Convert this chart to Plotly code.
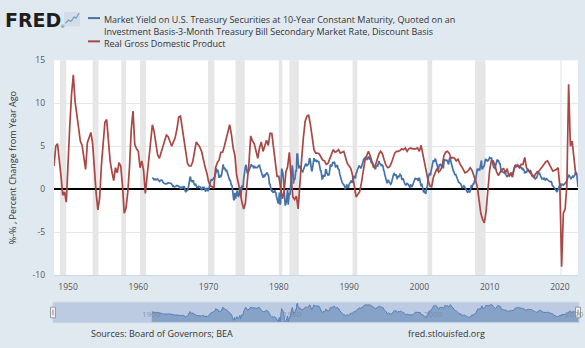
import pandas as pd
import plotly.graph_objects as go

W, H = 585, 348

# ---------------------------------------------------------------------------
# Data
# ---------------------------------------------------------------------------
# 10-year constant maturity yield minus 3-month T-bill rate, monthly, percent
spread_start = "1962-01-01"
spread_values = [
    1.36, 1.31, 1.21, 1.11, 1.18, 1.18, 1.09, 1.16, 1.20, 1.19, 1.09, 0.99,  # 1962
    0.92, 1.00, 1.04, 1.07, 1.01, 1.00, 0.84, 0.68, 0.70, 0.66, 0.60, 0.61,  # 1963
    0.65, 0.62, 0.68, 0.76, 0.72, 0.69, 0.73, 0.69, 0.67, 0.62, 0.51, 0.34,  # 1964
    0.38, 0.28, 0.28, 0.27, 0.32, 0.41, 0.36, 0.41, 0.37, 0.32, 0.36, 0.24,  # 1965
    0.02, 0.18, 0.29, 0.13, 0.14, 0.31, 0.22, 0.26, -0.19, -0.34, -0.16, -0.12,  # 1966
    -0.14, 0.07, 0.28, 0.75, 1.25, 1.48, 0.95, 1.01, 0.88, 0.92, 1.02, 0.73,  # 1967
    0.53, 0.58, 0.57, 0.26, 0.21, 0.20, 0.19, 0.33, 0.27, 0.23, 0.25, 0.07,  # 1968
    -0.10, 0.07, 0.28, 0.06, 0.28, 0.13, -0.28, -0.29, 0.07, 0.10, -0.10, -0.17,  # 1969
    -0.08, 0.11, 0.44, 0.88, 1.07, 1.16, 1.01, 1.12, 1.27, 1.42, 1.56, 1.52,  # 1970
    1.80, 2.41, 2.32, 1.97, 2.25, 1.77, 1.33, 1.64, 1.45, 1.47, 1.59, 1.92,  # 1971
    2.57, 2.88, 2.34, 2.48, 2.44, 2.20, 2.13, 2.19, 1.89, 1.74, 1.50, 1.29,  # 1972
    1.05, 1.04, 0.62, 0.41, 0.49, -0.29, -0.88, -1.27, -1.20, -0.43, -1.10, -0.71,  # 1973
    -0.78, -0.16, -0.75, -0.82, -0.65, -0.36, 0.26, -0.92, -0.02, 0.44, 0.21, 0.28,  # 1974
    1.24, 1.89, 2.24, 2.62, 2.83, 2.52, 1.93, 1.96, 2.01, 2.18, 2.57, 2.56,  # 1975
    2.87, 2.91, 2.73, 2.70, 2.70, 2.45, 2.60, 2.63, 2.51, 2.49, 2.54, 2.52,  # 1976
    2.59, 2.72, 2.86, 2.83, 2.50, 2.26, 2.14, 1.91, 1.53, 1.36, 1.48, 1.62,  # 1977
    1.52, 1.58, 1.75, 1.86, 1.94, 1.73, 1.63, 1.33, 0.57, 0.65, 0.17, -0.07,  # 1978
    -0.25, -0.17, -0.34, -0.31, -0.33, -0.14, -0.31, -0.42, -0.85, -1.17, -1.22, -1.68,  # 1979
    -1.24, -0.40, -1.80, -1.60, 1.03, 2.40, 2.12, 1.84, 1.19, 0.17, -1.10, -1.90,  # 1980
    -1.70, -1.40, -0.36, 0.05, -1.80, -1.09, -0.42, -0.67, 0.37, 1.28, 2.12, 2.79,  # 1981
    2.18, 0.65, 1.37, 1.05, 1.47, 2.19, 2.04, 4.05, 4.14, 3.16, 2.51, 2.53,  # 1982
    2.65, 2.59, 2.21, 2.15, 2.19, 2.03, 2.26, 2.46, 2.60, 2.83, 2.98, 2.87,  # 1983
    2.74, 2.81, 2.88, 2.94, 3.51, 3.62, 3.23, 2.23, 2.11, 2.19, 2.78, 3.34,  # 1984
    3.62, 3.29, 3.29, 3.43, 3.29, 3.15, 3.26, 3.15, 3.29, 3.07, 2.58, 2.19,  # 1985
    2.15, 1.67, 1.19, 1.24, 1.59, 1.59, 1.46, 1.60, 2.26, 2.25, 1.90, 1.62,  # 1986
    1.63, 1.66, 1.69, 2.26, 2.86, 2.71, 2.67, 2.76, 3.10, 3.12, 3.05, 3.19,  # 1987
    2.77, 2.52, 2.68, 2.80, 2.82, 2.42, 2.33, 2.24, 1.75, 1.46, 1.28, 1.02,  # 1988
    0.80, 0.69, 0.53, 0.48, 0.46, 0.06, 0.10, 0.20, 0.47, 0.42, 0.20, 0.20,  # 1989
    0.57, 0.73, 0.69, 1.02, 1.02, 0.75, 0.85, 1.30, 1.53, 1.55, 1.33, 1.34,  # 1990
    1.87, 1.91, 2.20, 2.39, 2.61, 2.71, 2.69, 2.57, 2.43, 2.54, 2.86, 3.02,  # 1991
    3.23, 3.50, 3.50, 3.73, 3.76, 3.60, 3.63, 3.46, 3.51, 3.73, 3.74, 3.55,  # 1992
    3.60, 3.33, 3.03, 3.10, 3.08, 2.89, 2.77, 2.66, 2.41, 2.31, 2.62, 2.71,  # 1993
    2.77, 2.72, 2.98, 3.29, 3.04, 2.96, 2.97, 2.76, 2.84, 2.79, 2.67, 2.21,  # 1994
    2.07, 1.70, 1.47, 1.41, 0.96, 0.70, 0.86, 1.09, 0.92, 0.76, 0.57, 0.57,  # 1995
    0.65, 0.98, 1.31, 1.56, 1.72, 1.82, 1.72, 1.59, 1.74, 1.54, 1.17, 1.39,  # 1996
    1.55, 1.41, 1.55, 1.73, 1.66, 1.56, 1.17, 1.16, 1.26, 1.06, 0.74, 0.65,  # 1997
    0.50, 0.48, 0.62, 0.69, 0.65, 0.52, 0.50, 0.44, 0.20, 0.57, 0.42, 0.26,  # 1998
    0.38, 0.55, 0.75, 0.90, 1.03, 1.31, 1.19, 1.18, 1.19, 1.23, 0.96, 1.08,  # 1999
    1.34, 0.97, 0.57, 0.33, 0.65, 0.41, 0.09, -0.26, -0.20, -0.37, -0.45, -0.53,  # 2000
    0.01, 0.22, 0.47, 1.27, 1.77, 1.79, 1.73, 1.61, 2.09, 2.41, 2.78, 3.40,  # 2001
    3.39, 3.18, 3.49, 3.49, 3.43, 3.23, 2.97, 2.64, 2.24, 2.36, 2.82, 2.84,  # 2002
    2.88, 2.73, 2.68, 2.83, 2.50, 2.41, 3.08, 3.50, 3.33, 3.37, 3.37, 3.37,  # 2003
    3.27, 3.15, 2.89, 3.41, 3.70, 3.46, 3.17, 2.80, 2.48, 2.34, 2.12, 2.04,  # 2004
    1.89, 1.63, 1.76, 1.56, 1.30, 1.03, 0.96, 0.82, 0.78, 0.75, 0.66, 0.58,  # 2005
    0.18, 0.14, 0.21, 0.39, 0.39, 0.32, 0.14, -0.08, -0.09, -0.19, -0.34, -0.29,  # 2006
    -0.22, -0.31, -0.38, -0.18, 0.02, 0.49, 0.18, 0.47, 0.63, 0.63, 0.88, 1.10,  # 2007
    0.99, 1.62, 2.25, 2.39, 2.15, 2.24, 2.38, 2.17, 2.56, 3.14, 3.34, 2.39,  # 2008
    2.39, 2.57, 2.61, 2.77, 3.11, 3.54, 3.38, 3.42, 3.28, 3.32, 3.35, 3.54,  # 2009
    3.67, 3.58, 3.58, 3.69, 3.26, 3.08, 2.85, 2.54, 2.50, 2.41, 2.62, 3.15,  # 2010
    3.24, 3.45, 3.31, 3.40, 3.13, 2.96, 2.96, 2.28, 1.97, 2.13, 2.00, 1.97,  # 2011
    1.94, 1.88, 2.09, 1.97, 1.71, 1.53, 1.43, 1.58, 1.61, 1.65, 1.56, 1.65,  # 2012
    1.84, 1.88, 1.87, 1.70, 1.89, 2.25, 2.54, 2.70, 2.79, 2.57, 2.65, 2.83,  # 2013
    2.82, 2.66, 2.67, 2.68, 2.53, 2.56, 2.51, 2.39, 2.51, 2.28, 2.31, 2.18,  # 2014
    1.85, 1.96, 2.01, 1.92, 2.18, 2.34, 2.29, 2.10, 2.15, 2.05, 2.14, 2.01,  # 2015
    1.83, 1.47, 1.60, 1.58, 1.54, 1.37, 1.20, 1.26, 1.34, 1.43, 1.69, 1.98,  # 2016
    1.92, 1.90, 1.74, 1.50, 1.41, 1.21, 1.25, 1.20, 1.17, 1.29, 1.12, 1.08,  # 2017
    1.17, 1.29, 1.14, 1.11, 1.12, 1.01, 0.93, 0.86, 0.87, 0.90, 0.79, 0.46,  # 2018
    0.34, 0.29, 0.17, 0.15, 0.05, -0.10, -0.04, -0.32, -0.19, 0.06, 0.27, 0.32,  # 2019
    0.24, -0.02, 0.58, 0.52, 0.54, 0.57, 0.49, 0.55, 0.57, 0.69, 0.78, 0.84,  # 2020
    1.00, 1.22, 1.58, 1.62, 1.60, 1.48, 1.27, 1.23, 1.33, 1.53, 1.51, 1.41,  # 2021
    1.61, 1.60, 1.69, 1.99, 1.92, 1.65, 0.67, 0.27,  # 2022
]

# Real GDP, percent change from a year ago, quarterly
gdp_start = "1948-01-01"
gdp_yoy = [
    2.7, 5.0, 5.3, 3.6,     # 1948
    1.5, -0.7, -0.3, -1.5,  # 1949
    3.5, 7.4, 11.0, 13.3,   # 1950
    10.2, 8.5, 7.0, 5.6,    # 1951
    5.1, 3.5, 2.3, 5.4,     # 1952
    6.1, 6.6, 5.3, 2.3,     # 1953
    -0.5, -2.4, -1.0, 2.8,  # 1954
    6.0, 7.8, 8.1, 5.6,     # 1955
    3.2, 2.0, 1.0, 2.5,     # 1956
    1.9, 3.1, 2.7, 0.4,     # 1957
    -2.8, -2.2, -0.4, 2.6,  # 1958
    7.0, 9.1, 5.2, 4.7,     # 1959
    4.4, 2.5, 3.3, 2.2,     # 1960
    -0.5, 1.5, 3.5, 5.8,    # 1961
    7.5, 6.7, 5.2, 4.0,     # 1962
    3.6, 4.2, 5.0, 5.5,     # 1963
    6.3, 6.1, 5.6, 5.0,     # 1964
    5.5, 6.0, 7.0, 8.4,     # 1965
    8.5, 7.2, 5.8, 4.3,     # 1966
    3.0, 2.7, 2.7, 3.2,     # 1967
    4.3, 5.5, 5.2, 4.9,     # 1968
    4.4, 3.3, 2.6, 1.9,     # 1969
    0.9, 0.4, 0.3, 0.1,     # 1970
    2.5, 3.1, 3.4, 4.3,     # 1971
    4.3, 5.0, 5.8, 6.6,     # 1972
    7.5, 6.4, 4.8, 3.9,     # 1973
    1.6, 0.7, -0.5, -1.5,   # 1974
    -2.3, -1.6, 0.8, 3.0,   # 1975
    6.2, 5.6, 5.3, 4.5,     # 1976
    3.6, 4.8, 5.5, 4.4,     # 1977
    5.0, 5.7, 5.1, 6.5,     # 1978
    6.5, 4.8, 3.2, 1.5,     # 1979
    1.5, 0.3, -1.1, -0.3,   # 1980
    2.0, 2.6, 4.3, 1.4,     # 1981
    -0.9, -1.2, -0.8, -2.3, # 1982
    1.0, 3.5, 6.0, 7.9,     # 1983
    8.5, 8.6, 7.5, 5.7,     # 1984
    4.6, 4.2, 4.2, 4.1,     # 1985
    3.8, 3.4, 3.3, 2.9,     # 1986
    3.0, 3.5, 3.9, 4.6,     # 1987
    4.3, 4.4, 4.6, 4.2,     # 1988
    4.3, 4.4, 3.7, 3.0,     # 1989
    2.7, 2.4, 1.6, 0.5,     # 1990
    -0.9, -0.6, -0.3, 0.7,  # 1991
    1.8, 3.3, 3.9, 4.4,     # 1992
    3.9, 3.3, 2.5, 2.8,     # 1993
    3.5, 4.1, 4.4, 4.1,     # 1994
    3.4, 2.8, 2.5, 2.6,     # 1995
    3.0, 3.7, 4.2, 4.4,     # 1996
    4.4, 4.5, 4.7, 4.6,     # 1997
    4.8, 4.4, 4.7, 4.8,     # 1998
    4.7, 4.7, 4.7, 4.8,     # 1999
    4.4, 5.1, 4.0, 3.0,     # 2000
    2.2, 1.0, 0.4, 0.3,     # 2001
    1.4, 2.0, 2.4, 2.0,     # 2002
    2.2, 2.7, 3.9, 4.3,     # 2003
    4.4, 4.2, 3.6, 3.7,     # 2004
    3.6, 3.3, 3.5, 3.0,     # 2005
    2.7, 2.3, 1.9, 2.0,     # 2006
    2.2, 2.5, 2.2, 1.7,     # 2007
    1.0, 0.3, -1.5, -2.8,   # 2008
    -3.5, -3.9, -2.6, 0.0,  # 2009
    2.2, 3.3, 3.3, 2.8,     # 2010
    2.0, 1.6, 2.0, 2.3,     # 2011
    2.4, 1.9, 2.4, 1.5,     # 2012
    1.9, 1.4, 2.4, 2.8,     # 2013
    2.7, 2.5, 2.9, 2.9,     # 2014
    3.7, 2.5, 2.2, 1.9,     # 2015
    1.6, 1.4, 1.7, 2.0,     # 2016
    2.1, 2.3, 2.6, 2.9,     # 2017
    3.2, 3.3, 2.9, 2.4,     # 2018
    2.1, 2.2, 2.3, 2.5,     # 2019
    0.3, -9.0, -2.8, -2.3,  # 2020
    0.5, 12.2, 5.0, 5.6,    # 2021
    3.6, 1.8, 1.8,          # 2022
]

# NBER recession periods (peak month, trough month)
recession_starts = ["1948-11-01", "1953-07-01", "1957-08-01", "1960-04-01",
                    "1969-12-01", "1973-11-01", "1980-01-01", "1981-07-01",
                    "1990-07-01", "2001-03-01", "2007-12-01", "2020-02-01"]
recession_ends = ["1949-10-01", "1954-05-01", "1958-04-01", "1961-02-01",
                  "1970-11-01", "1975-03-01", "1980-07-01", "1982-11-01",
                  "1991-03-01", "2001-11-01", "2009-06-01", "2020-04-01"]

x_tick_years = [1950, 1960, 1970, 1980, 1990, 2000, 2010, 2020]
y_tick_values = [-10, -5, 0, 5, 10, 15]
navigator_label_years = [1960, 1980, 2000, 2020]

spread_name = ("Market Yield on U.S. Treasury Securities at 10-Year Constant Maturity, Quoted on an",
               "Investment Basis-3-Month Treasury Bill Secondary Market Rate, Discount Basis")
gdp_name = "Real Gross Domestic Product"
y_title = "%-% , Percent Change from Year Ago"
source_text = "Sources: Board of Governors; BEA"
site_text = "fred.stlouisfed.org"

# ---------------------------------------------------------------------------
# Styling
# ---------------------------------------------------------------------------
BLUE = "#4572a7"
RED = "#aa4643"
PAPER = "#e1e9f0"
FONT = "Open Sans"
X_RANGE = ["1948-01-01", "2022-08-01"]

# pixel boxes of the two panels
MAIN_L, MAIN_R, MAIN_T, MAIN_B = 54, 578, 56, 278
NAV_L, NAV_R, NAV_T, NAV_B = 53, 579, 306, 327


def fx(px):
    return px / W


def fy(py):
    return 1 - py / H


spread_dates = pd.date_range(spread_start, periods=len(spread_values), freq="MS")
gdp_dates = pd.date_range(gdp_start, periods=len(gdp_yoy), freq="QS")

fig = go.Figure()

# main chart
fig.add_trace(go.Scatter(x=spread_dates, y=spread_values, mode="lines",
                         line=dict(color=BLUE, width=1.7),
                         xaxis="x", yaxis="y", showlegend=False, hoverinfo="skip"))
fig.add_trace(go.Scatter(x=gdp_dates, y=gdp_yoy, mode="lines",
                         line=dict(color=RED, width=1.7),
                         xaxis="x", yaxis="y", showlegend=False, hoverinfo="skip"))

# navigator mini chart (area under the spread series)
nav_floor = min(spread_values) - 0.2
nav_top = max(spread_values) + 0.3
fig.add_trace(go.Scatter(x=spread_dates, y=[nav_floor] * len(spread_values), mode="lines",
                         line=dict(width=0, color=BLUE), xaxis="x2", yaxis="y2",
                         showlegend=False, hoverinfo="skip"))
fig.add_trace(go.Scatter(x=spread_dates, y=spread_values, mode="lines", fill="tonexty",
                         fillcolor="rgba(69,114,167,0.45)",
                         line=dict(color="#5a7fb5", width=1),
                         xaxis="x2", yaxis="y2", showlegend=False, hoverinfo="skip"))

shapes = []
# panel backgrounds (drawn beneath both subplots)
shapes.append(dict(type="rect", xref="paper", yref="paper",
                   x0=fx(MAIN_L), x1=fx(MAIN_R), y0=fy(MAIN_B), y1=fy(MAIN_T),
                   fillcolor="#ffffff", line=dict(width=0), layer="below"))
shapes.append(dict(type="rect", xref="paper", yref="paper",
                   x0=fx(NAV_L), x1=fx(NAV_R), y0=fy(NAV_B), y1=fy(NAV_T),
                   fillcolor="#bccbe2", line=dict(width=0), layer="below"))
# recession shading
for s, e in zip(recession_starts, recession_ends):
    shapes.append(dict(type="rect", xref="x", yref="paper", x0=s, x1=e,
                       y0=fy(MAIN_B), y1=fy(MAIN_T),
                       fillcolor="#e6e6e6", line=dict(width=0), layer="below"))
# navigator outline
shapes.append(dict(type="rect", xref="paper", yref="paper", x0=fx(NAV_L), x1=fx(NAV_R),
                   y0=fy(NAV_B), y1=fy(NAV_T), fillcolor="rgba(0,0,0,0)",
                   line=dict(color="#c9d5e7", width=1), layer="above"))
# navigator handles
for hx in (50.5, 575.5):
    shapes.append(dict(type="rect", xref="paper", yref="paper", x0=fx(hx), x1=fx(hx + 5),
                       y0=fy(322), y1=fy(311), fillcolor="#f2f2f2",
                       line=dict(color="#999999", width=1), layer="above"))
    for gx in (hx + 2, hx + 3):
        shapes.append(dict(type="line", xref="paper", yref="paper", x0=fx(gx), x1=fx(gx),
                           y0=fy(319.5), y1=fy(313.5), line=dict(color="#999999", width=0.6),
                           layer="above"))
# legend swatches
shapes.append(dict(type="line", xref="paper", yref="paper", x0=fx(88), x1=fx(100),
                   y0=fy(12.5), y1=fy(12.5), line=dict(color=BLUE, width=2)))
shapes.append(dict(type="line", xref="paper", yref="paper", x0=fx(88), x1=fx(100),
                   y0=fy(36.5), y1=fy(36.5), line=dict(color=RED, width=2)))
# small logo graph icon
shapes.append(dict(type="rect", xref="paper", yref="paper", x0=fx(64), x1=fx(80),
                   y0=fy(21), y1=fy(6), fillcolor="#d3dde8", line=dict(width=0)))
shapes.append(dict(type="path", xref="paper", yref="paper",
                   path=(f"M {fx(65.5)},{fy(18)} L {fx(68.5)},{fy(14.5)} L {fx(71)},{fy(16)} "
                         f"L {fx(74)},{fy(11.5)} L {fx(76)},{fy(12.5)} L {fx(79)},{fy(7.5)}"),
                   line=dict(color="#6f9fc6", width=1.2)))

annotations = []
# logo
annotations.append(dict(text="<b>FRED</b>", x=fx(3), y=fy(14), xref="paper", yref="paper",
                        xanchor="left", yanchor="middle", showarrow=False,
                        font=dict(family="DejaVu Sans", size=19, color="#1f1f1f")))
annotations.append(dict(text="®", x=fx(58.5), y=fy(21), xref="paper", yref="paper",
                        xanchor="left", yanchor="middle", showarrow=False,
                        font=dict(family=FONT, size=4, color="#1f1f1f")))
# legend entries
annotations.append(dict(text=spread_name[0] + "<br>" + spread_name[1],
                        x=fx(103), y=fy(6), xref="paper", yref="paper",
                        xanchor="left", yanchor="top", align="left", showarrow=False,
                        borderpad=0,
                        font=dict(family=FONT, size=9, color="#333333")))
annotations.append(dict(text=gdp_name, x=fx(103), y=fy(31), xref="paper", yref="paper",
                        xanchor="left", yanchor="top", showarrow=False, borderpad=0,
                        font=dict(family=FONT, size=9, color="#333333")))
# y axis title
annotations.append(dict(text=y_title, x=fx(12.5), y=fy(167), xref="paper", yref="paper",
                        xanchor="center", yanchor="middle", textangle=-90, showarrow=False,
                        font=dict(family=FONT, size=9, color="#333333")))
# navigator year labels
for yr in navigator_label_years:
    annotations.append(dict(text=str(yr), x=f"{yr}-01-01", y=fy(318), xref="x2", yref="paper",
                            xanchor="left", yanchor="middle", xshift=2, showarrow=False,
                            font=dict(family=FONT, size=8, color="rgba(120,130,150,0.75)")))
# footer
annotations.append(dict(text=source_text, x=fx(88.5), y=fy(338), xref="paper", yref="paper",
                        xanchor="left", yanchor="middle", showarrow=False,
                        font=dict(family=FONT, size=9, color="#333333")))
annotations.append(dict(text=site_text, x=fx(406), y=fy(338), xref="paper", yref="paper",
                        xanchor="left", yanchor="middle", showarrow=False,
                        font=dict(family=FONT, size=9, color="#333333")))

fig.update_layout(
    width=W, height=H,
    margin=dict(l=0, r=0, t=0, b=0),
    paper_bgcolor=PAPER,
    plot_bgcolor="rgba(0,0,0,0)",
    font=dict(family=FONT, size=9, color="#333333"),
    showlegend=False,
    xaxis=dict(domain=[fx(MAIN_L), fx(MAIN_R)], range=X_RANGE, type="date", anchor="y",
               tickvals=[f"{y}-01-01" for y in x_tick_years],
               ticktext=[str(y) for y in x_tick_years],
               showgrid=False, zeroline=False, ticks="",
               showline=True, linecolor="#ccd6eb", linewidth=1,
               tickfont=dict(family=FONT, size=8.5, color="#555555"),
               ticklabelstandoff=4, fixedrange=True),
    yaxis=dict(domain=[fy(MAIN_B), fy(MAIN_T)], range=[-10, 15], anchor="x",
               tickvals=y_tick_values, ticktext=[str(v) for v in y_tick_values],
               showgrid=True, gridcolor="#e6e6e6", gridwidth=1,
               zeroline=True, zerolinecolor="#000000", zerolinewidth=1.6,
               ticks="", showline=False,
               tickfont=dict(family=FONT, size=8.5, color="#555555"),
               ticklabelstandoff=8, fixedrange=True),
    xaxis2=dict(domain=[fx(NAV_L), fx(NAV_R)], range=X_RANGE, type="date", anchor="y2",
                visible=False, fixedrange=True),
    yaxis2=dict(domain=[fy(NAV_B), fy(NAV_T)], range=[nav_floor, nav_top], anchor="x2",
                visible=False, fixedrange=True),
    shapes=shapes,
    annotations=annotations,
)

fig.write_html("out.html")
